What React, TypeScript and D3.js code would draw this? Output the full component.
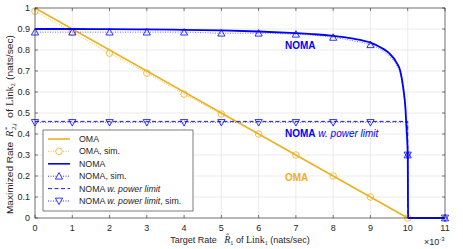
import React, { useEffect } from 'react';
import * as d3 from 'd3';

// target rate of link 1 (x1e-3 nats/sec)
const simX = [0, 1, 2, 3, 4, 5, 6, 7, 8, 9, 10, 11];

// OMA analytic line and simulation points
const omaX = [0, 10];
const omaY = [1, 0];
const omaSimY = [0.985, 0.885, 0.785, 0.69, 0.59, 0.495, 0.4, 0.3, 0.2, 0.1, 0.0];

// NOMA analytic curve and its simulated curve
const nomaX = [0, 1, 2, 3, 4, 5, 6, 7, 7.5, 8, 8.5, 9, 9.3, 9.5, 9.7, 9.8, 9.88, 9.94, 9.97, 10, 10.01, 11];
const nomaY = [0.9, 0.9, 0.899, 0.898, 0.896, 0.893, 0.888, 0.88, 0.875, 0.867, 0.855, 0.835, 0.81, 0.785, 0.74, 0.7, 0.62, 0.52, 0.42, 0.3, 0, 0];
const nomaSimLineY = [0.885, 0.885, 0.885, 0.885, 0.885, 0.88, 0.88, 0.875, 0.87, 0.86, 0.845, 0.825, 0.8, 0.772, 0.728, 0.69, 0.6, 0.5, 0.41, 0.3, 0, 0];
const nomaSimY = [0.885, 0.885, 0.885, 0.885, 0.885, 0.88, 0.88, 0.875, 0.86, 0.825, 0.3, 0];

// NOMA with power limit
const plimX = [0, 10, 10, 11];
const plimY = [0.46, 0.46, 0, 0];
const plimSimLineY = [0.455, 0.455, 0, 0];
const plimSimY = [0.455, 0.455, 0.455, 0.455, 0.455, 0.455, 0.455, 0.455, 0.455, 0.455, 0.3, 0];

const xTicks = [0, 1, 2, 3, 4, 5, 6, 7, 8, 9, 10, 11];
const yTicks = [0, 0.1, 0.2, 0.3, 0.4, 0.5, 0.6, 0.7, 0.8, 0.9, 1];

const legendItems = ['OMA', 'OMA, sim.', 'NOMA', 'NOMA, sim.', 'NOMA w. power limit', 'NOMA w. power limit, sim.'];

const ORANGE = '#EDB120';
const BLUE = '#0000FF';
const AX = '#262626';
const FONT = 'Liberation Sans, Arial, sans-serif';
const SERIF = 'Liberation Serif, DejaVu Serif, serif';

export default function App() {
    useEffect(() => {
        document.body.style.margin = '0';
    }, []);

    const width = 463, height = 249;
    const x = d3.scaleLinear().domain([0, 11]).range([35, 445]);
    const y = d3.scaleLinear().domain([0, 1]).range([218, 8]);

    const line = (xs: number[], ys: number[], curve: any = d3.curveLinear) =>
        d3.line<number>().x((d, i) => x(xs[i])).y(d => y(d)).curve(curve)(ys) || '';

    const triUp = (cx: number, cy: number, s = 3.6) =>
        `M${cx},${cy - s}L${cx + s},${cy + s * 0.8}L${cx - s},${cy + s * 0.8}Z`;
    const triDown = (cx: number, cy: number, s = 3.6) =>
        `M${cx},${cy + s}L${cx + s},${cy - s * 0.8}L${cx - s},${cy - s * 0.8}Z`;

    const lx0 = 48, lx1 = 70, ltx = 79, ly0 = 139, lstep = 12.4;

    return (
        <svg width={width} height={height} style={{ display: 'block', background: '#fff' }}>
            {/* grid */}
            {xTicks.map(t => (
                <line key={'gx' + t} x1={x(t)} x2={x(t)} y1={y(0)} y2={y(1)} stroke="#e6e6e6" strokeWidth={0.8} />
            ))}
            {yTicks.map(t => (
                <line key={'gy' + t} x1={x(0)} x2={x(11)} y1={y(t)} y2={y(t)} stroke="#e6e6e6" strokeWidth={0.8} />
            ))}

            {/* OMA */}
            <path d={line(omaX, omaY)} fill="none" stroke={ORANGE} strokeWidth={1.5} />
            <path d={line(simX.slice(0, 11), omaSimY)} fill="none" stroke={ORANGE} strokeWidth={0.8} strokeDasharray="1,1.5" />
            {omaSimY.map((v, i) => (
                <circle key={'oc' + i} cx={x(simX[i])} cy={y(v)} r={3.3} fill="none" stroke={ORANGE} strokeWidth={0.8} />
            ))}

            {/* NOMA w. power limit */}
            <path d={line(plimX, plimY)} fill="none" stroke={BLUE} strokeWidth={0.9} strokeDasharray="4,2.5" />
            <path d={line(plimX, plimSimLineY)} fill="none" stroke={BLUE} strokeWidth={0.7} strokeDasharray="1,1.5" opacity={0.8} />
            {plimSimY.map((v, i) => (
                <path key={'pt' + i} d={triDown(x(simX[i]), y(v))} fill="none" stroke={BLUE} strokeWidth={0.8} />
            ))}

            {/* NOMA */}
            <path d={line(nomaX, nomaSimLineY, d3.curveMonotoneX)} fill="none" stroke={BLUE} strokeWidth={0.7} strokeDasharray="1,1.5" opacity={0.8} />
            <path d={line(nomaX, nomaY, d3.curveMonotoneX)} fill="none" stroke={BLUE} strokeWidth={1.8} />
            {nomaSimY.map((v, i) => (
                <path key={'nt' + i} d={triUp(x(simX[i]), y(v))} fill="none" stroke={BLUE} strokeWidth={0.8} />
            ))}

            {/* axes box */}
            <rect x={x(0)} y={y(1)} width={x(11) - x(0)} height={y(0) - y(1)} fill="none" stroke={AX} strokeWidth={0.6} />
            {xTicks.map(t => (
                <g key={'xt' + t}>
                    <line x1={x(t)} x2={x(t)} y1={y(0)} y2={y(0) - 3} stroke={AX} strokeWidth={0.6} />
                    <line x1={x(t)} x2={x(t)} y1={y(1)} y2={y(1) + 3} stroke={AX} strokeWidth={0.6} />
                    <text x={x(t)} y={231} textAnchor="middle" fontFamily={FONT} fontSize={9} fill={AX}>{t}</text>
                </g>
            ))}
            {yTicks.map(t => (
                <g key={'yt' + t}>
                    <line x1={x(0)} x2={x(0) + 3} y1={y(t)} y2={y(t)} stroke={AX} strokeWidth={0.6} />
                    <line x1={x(11)} x2={x(11) - 3} y1={y(t)} y2={y(t)} stroke={AX} strokeWidth={0.6} />
                    <text x={30} y={y(t) + 3.2} textAnchor="end" fontFamily={FONT} fontSize={9} fill={AX}>{t}</text>
                </g>
            ))}

            {/* x axis label */}
            <text x={240} y={243} textAnchor="middle" fontFamily={FONT} fontSize={9} fill={AX}>
                Target Rate{'\u00A0\u00A0\u00A0'}
                <tspan fontFamily={SERIF} fontStyle="italic" fontSize={10}>R̂</tspan>
                <tspan fontFamily={SERIF} fontSize={6} dy={2}>1</tspan>
                <tspan dy={-2}>{'\u00A0'}of </tspan>
                <tspan fontFamily={SERIF} fontSize={10}>Link</tspan>
                <tspan fontFamily={SERIF} fontSize={6} dy={2}>1</tspan>
                <tspan dy={-2}> (nats/sec)</tspan>
            </text>
            <text x={424} y={245} fontFamily={FONT} fontSize={9} fill={AX}>
                ×10<tspan fontSize={6} dy={-4}>-3</tspan>
            </text>

            {/* y axis label, rotated: text x = -screen y */}
            <g transform="translate(13,0) rotate(-90)" fontFamily={FONT} fontSize={9.5} fill={AX}>
                <text x={-214} y={0} textLength={72} lengthAdjust="spacingAndGlyphs">Maximized Rate</text>
                <text x={-137} y={0} fontFamily={SERIF} fontStyle="italic" fontSize={10.5}>R</text>
                <text x={-130} y={-4} fontFamily={SERIF} fontSize={6.5}>*</text>
                <text x={-130} y={3} fontFamily={SERIF} fontStyle="italic" fontSize={6.5}>2,j</text>
                <text x={-118} y={0} textLength={9} lengthAdjust="spacingAndGlyphs">of</text>
                <text x={-106} y={0} fontFamily={SERIF} fontSize={10.5}>Link</text>
                <text x={-86.5} y={2} fontFamily={SERIF} fontSize={6.5}>2</text>
                <text x={-80} y={0} textLength={45} lengthAdjust="spacingAndGlyphs">(nats/sec)</text>
            </g>

            {/* annotations */}
            <text x={285} y={49} fontFamily={FONT} fontWeight="bold" fontSize={10} fill={BLUE}>NOMA</text>
            <text x={285} y={137} fontFamily={FONT} fontSize={10} fill={BLUE}>
                <tspan fontWeight="bold">NOMA</tspan>
                <tspan fontStyle="italic"> w. power limit</tspan>
            </text>
            <text x={285} y={181} fontFamily={FONT} fontWeight="bold" fontSize={10} fill={ORANGE}>OMA</text>

            {/* legend */}
            <rect x={43} y={130} width={150} height={81} fill="#fff" stroke={AX} strokeWidth={0.6} />
            {legendItems.map((label, i) => {
                const ly = ly0 + i * lstep;
                const col = i < 2 ? ORANGE : BLUE;
                const mx = (lx0 + lx1) / 2;
                let sample: React.ReactNode = null;
                if (i === 0 || i === 2) {
                    sample = <line x1={lx0} x2={lx1} y1={ly} y2={ly} stroke={col} strokeWidth={1.6} />;
                } else if (i === 4) {
                    sample = <line x1={lx0} x2={lx1} y1={ly} y2={ly} stroke={col} strokeWidth={0.9} strokeDasharray="4,2.5" />;
                } else {
                    sample = (
                        <g>
                            <line x1={lx0} x2={lx1} y1={ly} y2={ly} stroke={col} strokeWidth={0.8} strokeDasharray="1,1.5" />
                            {i === 1 && <circle cx={mx} cy={ly} r={3.3} fill="#fff" stroke={col} strokeWidth={0.8} />}
                            {i === 3 && <path d={triUp(mx, ly)} fill="#fff" stroke={col} strokeWidth={0.8} />}
                            {i === 5 && <path d={triDown(mx, ly)} fill="#fff" stroke={col} strokeWidth={0.8} />}
                        </g>
                    );
                }
                const parts = label.split('w. power limit');
                return (
                    <g key={'lg' + i}>
                        {sample}
                        <text x={ltx} y={ly + 3} fontFamily={FONT} fontSize={8.8} fill={AX}>
                            {parts.length > 1 ? (
                                <>
                                    {parts[0]}
                                    <tspan fontStyle="italic">w. power limit</tspan>
                                    {parts[1]}
                                </>
                            ) : label}
                        </text>
                    </g>
                );
            })}
        </svg>
    );
}
